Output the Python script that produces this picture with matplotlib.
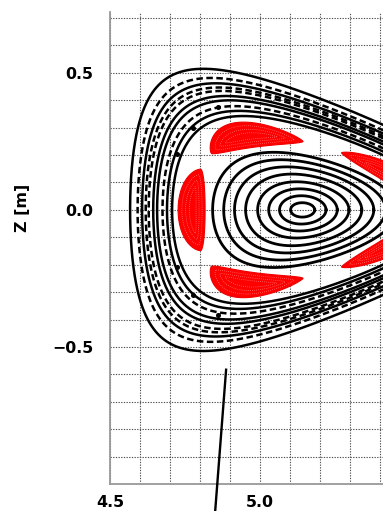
import numpy as np
import matplotlib
matplotlib.use("Agg")
import matplotlib.pyplot as plt
from matplotlib.ticker import MultipleLocator, FixedLocator

# Magnetic axis position [m]
axis_r = 5.142
axis_z = 0.0

# Closed flux surfaces inside the island chain (inboard half-width, m)
core_rho = [0.040, 0.077, 0.113, 0.150, 0.190, 0.227, 0.263, 0.300]

# Surfaces outside the island chain and how their Poincare traces look
edge_rho = [0.435, 0.452, 0.467, 0.485, 0.498, 0.513, 0.523, 0.535, 0.550, 0.575]
edge_style = ["solid", "solid", "dash", "solid", "solid",
              "dash", "dash", "solid", "dash", "solid"]

# Cross-section shaping versus surface size
shape_rho = [0.0, 0.10, 0.30, 0.36, 0.45, 0.575]
shape_kappa = [0.64, 0.68, 0.69, 0.72, 0.77, 0.847]
shape_tri = [0.0, 0.02, 0.09, 0.11, 0.14, 0.18]
shape_ext = [0.0, 0.02, 0.06, 0.08, 0.11, 0.143]

# 5/5 island chain
island_rho = 0.365
island_theta_deg = [180, 109, 251, 36, 324]
island_half_len_deg = [28, 29, 29, 26, 26]
island_w_in = 0.040
island_w_out = 0.050

# Isolated Poincare points of a higher-order chain
dot_r = [4.861, 4.778, 4.722, 4.722, 4.778, 4.860]
dot_z = [0.376, 0.297, 0.205, -0.208, -0.311, -0.383]

# Pointer line
pointer_r = [4.887, 4.847]
pointer_z = [-0.583, -1.15]

x_ticks = [4.5, 5.0]
x_labels = ["4.5", "5.0"]
y_ticks = [-0.5, 0.0, 0.5]
y_labels = ["\u22120.5", "0.0", "0.5"]

FONT = dict(family="DejaVu Sans", weight="bold", size=11.4)


def surface(rho, theta):
    rho = np.asarray(rho, dtype=float)
    k = np.interp(rho, shape_rho, shape_kappa)
    t = np.interp(rho, shape_rho, shape_tri)
    e = np.interp(rho, shape_rho, shape_ext)
    r = axis_r + rho * (np.cos(theta) + t * (np.cos(2 * theta) - 1)
                        + 0.5 * e * (1 + np.cos(theta)))
    z = axis_z + rho * k * (np.sin(theta) - t * np.sin(2 * theta))
    return r, z


fig = plt.figure(figsize=(3.83, 5.11), dpi=100)
ax = fig.add_axes([110 / 383, 27 / 511, 273 / 383, 472 / 511])
ax.set_xlim(4.5, 5.41)
ax.set_ylim(-1.0, 0.722)

theta = np.linspace(0, 2 * np.pi, 1200)

# grid and ticks
ax.xaxis.set_major_locator(FixedLocator(x_ticks))
ax.yaxis.set_major_locator(FixedLocator(y_ticks))
ax.xaxis.set_minor_locator(MultipleLocator(0.1))
ax.yaxis.set_minor_locator(MultipleLocator(0.1))
ax.grid(which="both", color="#555555", linestyle=(0, (1.2, 1.2)), linewidth=0.8)
ax.set_axisbelow(True)
ax.tick_params(which="both", length=0)
ax.tick_params(axis="y", pad=12)
ax.tick_params(axis="x", pad=8)
ax.set_xticklabels(x_labels, fontdict=FONT)
ax.set_yticklabels(y_labels, fontdict=FONT)

for s in ["top", "right"]:
    ax.spines[s].set_visible(False)
for s in ["left", "bottom"]:
    ax.spines[s].set_color("#999999")
    ax.spines[s].set_linewidth(1.3)

# core surfaces
for rho in core_rho:
    r, z = surface(rho, theta)
    ax.plot(r, z, color="black", lw=2.0, zorder=3)

# outer surfaces
for rho, st in zip(edge_rho, edge_style):
    r, z = surface(rho, theta)
    if st == "solid":
        ax.plot(r, z, color="black", lw=1.8, zorder=3)
    else:
        ax.plot(r, z, color="black", lw=1.8, dashes=(2.6, 1.4), zorder=3)

# island chain
for th_deg, hl_deg in zip(island_theta_deg, island_half_len_deg):
    th0 = np.radians(th_deg)
    hl = np.radians(hl_deg)
    u = np.linspace(-1, 1, 200)
    f = np.clip(1 - u ** 2, 0, None) ** 0.75
    th = th0 + hl * u
    ro, zo = surface(island_rho + island_w_out * f, th)
    ri, zi = surface(island_rho - island_w_in * f, th)
    ax.fill(np.concatenate([ro, ri[::-1]]), np.concatenate([zo, zi[::-1]]),
            color="#ff0000", lw=0.8, ec="#ee0000", zorder=4)
    for frac in [0.75, 0.5, 0.25]:
        fo = f * frac
        thi = th0 + hl * u * (0.4 + 0.6 * frac)
        ro2, zo2 = surface(island_rho + island_w_out * fo, thi)
        ri2, zi2 = surface(island_rho - island_w_in * fo, thi)
        ax.plot(np.concatenate([ro2, ri2[::-1], ro2[:1]]),
                np.concatenate([zo2, zi2[::-1], zo2[:1]]),
                color="#ff9a9a", lw=0.5, linestyle=(0, (1, 2)), zorder=5)

ax.plot(dot_r, dot_z, "o", color="black", ms=2.6, zorder=4)

ax.plot(pointer_r, pointer_z, color="black", lw=1.7, clip_on=False, zorder=6)

fig.text(22 / 383, 1 - 208 / 511, "Z [m]", rotation=90, ha="center", va="center",
         **FONT)

fig.savefig("out.png", dpi=100)
